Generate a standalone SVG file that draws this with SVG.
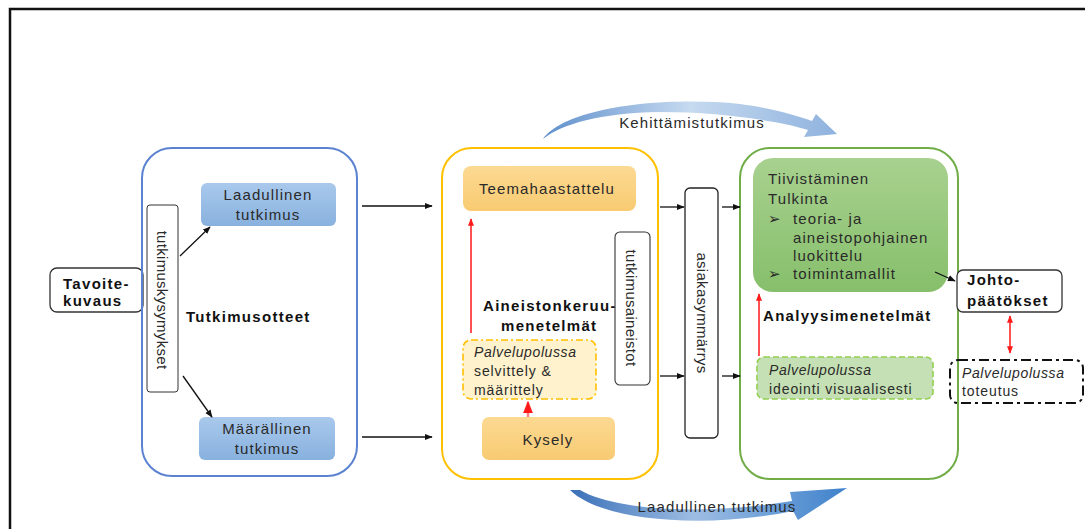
<svg xmlns="http://www.w3.org/2000/svg" width="1085" height="529" viewBox="0 0 1085 529">
<style>
text{font-family:"Liberation Sans",Arial,sans-serif;font-size:15px;fill:#2a2a2a;letter-spacing:1.1px}
.b{font-weight:bold;fill:#111;letter-spacing:1.3px}
.i{font-style:italic;font-size:14px;letter-spacing:0.6px}
.s{font-size:14px;letter-spacing:0.9px}
.c{text-anchor:middle}
.v{letter-spacing:0.3px}
.blk{stroke:#111;stroke-width:1.3;fill:none;marker-end:url(#ah)}
.red{stroke:#ff1a1a;stroke-width:1.5;fill:none;marker-end:url(#rh)}
</style>
<defs>
<marker id="ah" viewBox="0 0 10 10" refX="9" refY="5" markerWidth="6" markerHeight="6" orient="auto-start-reverse"><path d="M0,1 L10,5 L0,9 Z" fill="#111"/></marker>
<marker id="rh" viewBox="0 0 10 10" refX="9" refY="5" markerWidth="5" markerHeight="5" orient="auto-start-reverse"><path d="M0,1 L10,5 L0,9 Z" fill="#ff1a1a"/></marker>
<linearGradient id="gb" x1="0" y1="0" x2="0" y2="1"><stop offset="0" stop-color="#a9c9ec"/><stop offset="1" stop-color="#88b1de"/></linearGradient>
<linearGradient id="go" x1="0" y1="0" x2="0" y2="1"><stop offset="0" stop-color="#fcd992"/><stop offset="1" stop-color="#f8cb72"/></linearGradient>
<linearGradient id="gg" x1="0" y1="0" x2="0" y2="1"><stop offset="0" stop-color="#a8d18f"/><stop offset="1" stop-color="#86bf6b"/></linearGradient>
<linearGradient id="gt" x1="0" y1="0" x2="1" y2="0"><stop offset="0" stop-color="#5f8fcc"/><stop offset="0.5" stop-color="#c6daf0"/><stop offset="1" stop-color="#8fb2de"/></linearGradient>
<linearGradient id="gl" x1="0" y1="0" x2="1" y2="0"><stop offset="0" stop-color="#3a70b8"/><stop offset="0.45" stop-color="#9dbde3"/><stop offset="1" stop-color="#3f82cc"/></linearGradient>
</defs>
<rect width="1085" height="529" fill="#fff"/>
<path d="M10,529 V9 H1085" fill="none" stroke="#111" stroke-width="2.5"/>

<g id="kehittamis">
<path d="M543,139 C565,108 660,96 740,104 C770,108 792,114 812,121 L816,114 L837,134 L804,137 L808,130 C780,121 720,112 660,112 C600,113 562,124 543,139 Z" fill="url(#gt)"/>
<text x="692" y="128" class="c">Kehittämistutkimus</text>
</g>
<g id="laadullinen-arc">
<path d="M570,490 C600,520 700,530 793,511 L798,520 L847,488 L790,492 L792,501 C700,516 615,510 580,490 Z" fill="url(#gl)"/>
<text x="717" y="512" class="c">Laadullinen tutkimus</text>
</g>

<g id="tavoite">
<rect x="50" y="268" width="93" height="44" rx="7" fill="#fff" stroke="#333" stroke-width="1.3"/>
<text x="63" y="289" class="b">Tavoite-</text>
<text x="63" y="306" class="b">kuvaus</text>
</g>

<g id="tutkimusotteet">
<rect x="142" y="148" width="215" height="328" rx="30" fill="none" stroke="#5b82d0" stroke-width="2"/>
<text x="186" y="322" class="b">Tutkimusotteet</text>
</g>
<g id="kysymykset">
<rect x="147" y="205" width="31" height="187" rx="3" fill="#fff" stroke="#333" stroke-width="1"/>
<text transform="translate(157,300) rotate(90)" class="c v">tutkimuskysymykset</text>
</g>
<g id="laadullinen">
<rect x="201" y="183" width="135" height="43" rx="6" fill="url(#gb)"/>
<text x="268" y="200" class="c">Laadullinen</text>
<text x="268" y="220" class="c">tutkimus</text>
</g>
<g id="maarallinen">
<rect x="199" y="417" width="136" height="43" rx="6" fill="url(#gb)"/>
<text x="267" y="434" class="c">Määrällinen</text>
<text x="267" y="454" class="c">tutkimus</text>
</g>

<g id="aineistonkeruu">
<rect x="442" y="148" width="216" height="331" rx="30" fill="none" stroke="#ffc000" stroke-width="2"/>
<text x="483" y="311" class="b">Aineistonkeruu-</text>
<text x="501" y="331" class="b">menetelmät</text>
</g>
<g id="teemahaastattelu">
<rect x="463" y="166" width="173" height="45" rx="8" fill="url(#go)"/>
<text x="547" y="194" class="c">Teemahaastattelu</text>
</g>
<g id="selvittely">
<rect x="463" y="340" width="133" height="59" rx="8" fill="#fff2cc" stroke="#ffc000" stroke-width="1.6" stroke-dasharray="7 3 2 3"/>
<text x="474" y="357" class="i">Palvelupolussa</text>
<text x="474" y="376" class="s">selvittely &amp;</text>
<text x="474" y="395" class="s">määrittely</text>
</g>
<g id="kysely">
<rect x="482" y="417" width="133" height="43" rx="7" fill="url(#go)"/>
<text x="548" y="445" class="c">Kysely</text>
</g>
<g id="aineistot">
<rect x="615" y="232" width="35" height="153" rx="5" fill="#fff" stroke="#333" stroke-width="1.1"/>
<text transform="translate(626,308) rotate(90)" class="c v">tutkimusaineistot</text>
</g>

<g id="asiakasymmarrys">
<rect x="685" y="188" width="33" height="250" rx="5" fill="#fff" stroke="#222" stroke-width="1.3"/>
<text transform="translate(697,313) rotate(90)" class="c v">asiakasymmärrys</text>
</g>

<g id="analyysi">
<rect x="740" y="148" width="218" height="331" rx="30" fill="none" stroke="#70ad47" stroke-width="2"/>
<text x="763" y="321" class="b">Analyysimenetelmät</text>
</g>
<g id="tiivistaminen">
<rect x="753" y="158" width="195" height="134" rx="20" fill="url(#gg)"/>
<text x="768" y="184">Tiivistäminen</text>
<text x="768" y="204">Tulkinta</text>
<text x="768" y="224">➢</text>
<text x="793" y="224">teoria- ja</text>
<text x="793" y="243">aineistopohjainen</text>
<text x="793" y="261">luokittelu</text>
<text x="768" y="279">➢</text>
<text x="793" y="279">toimintamallit</text>
</g>
<g id="ideointi">
<rect x="757" y="357" width="176" height="42" rx="7" fill="#c5e0b4" stroke="#92d050" stroke-width="1.6" stroke-dasharray="6 3"/>
<text x="769" y="375" class="i">Palvelupolussa</text>
<text x="769" y="394" class="s">ideointi visuaalisesti</text>
</g>
<g id="johtopaatokset">
<rect x="957" y="270" width="105" height="42" rx="6" fill="#fff" stroke="#333" stroke-width="1.3"/>
<text x="967" y="285" class="b">Johto-</text>
<text x="967" y="306" class="b">päätökset</text>
</g>
<g id="toteutus">
<rect x="950" y="360" width="133" height="43" rx="8" fill="none" stroke="#111" stroke-width="2" stroke-dasharray="10 4 3 4"/>
<text x="962" y="378" class="i">Palvelupolussa</text>
<text x="962" y="396" class="s">toteutus</text>
</g>

<g id="connectors">
<path class="blk" d="M180,256 L210,227"/>
<path class="blk" d="M183,376 L212,417"/>
<path class="blk" d="M362,206 H432"/>
<path class="blk" d="M362,437 H432"/>
<path class="blk" d="M660,207 H684"/>
<path class="blk" d="M660,376 H684"/>
<path class="blk" d="M722,207 H740"/>
<path class="blk" d="M722,376 H740"/>
<path class="blk" d="M935,272 L955,281"/>
<path class="red" d="M471,333 V219"/>
<path stroke="#ff8080" stroke-width="2.5" fill="none" marker-end="url(#rh)" d="M528,417 V402"/>
<path class="red" d="M759,356 V294"/>
<path class="red" marker-start="url(#rh)" d="M1010,316 V353"/>
</g>
</svg>
